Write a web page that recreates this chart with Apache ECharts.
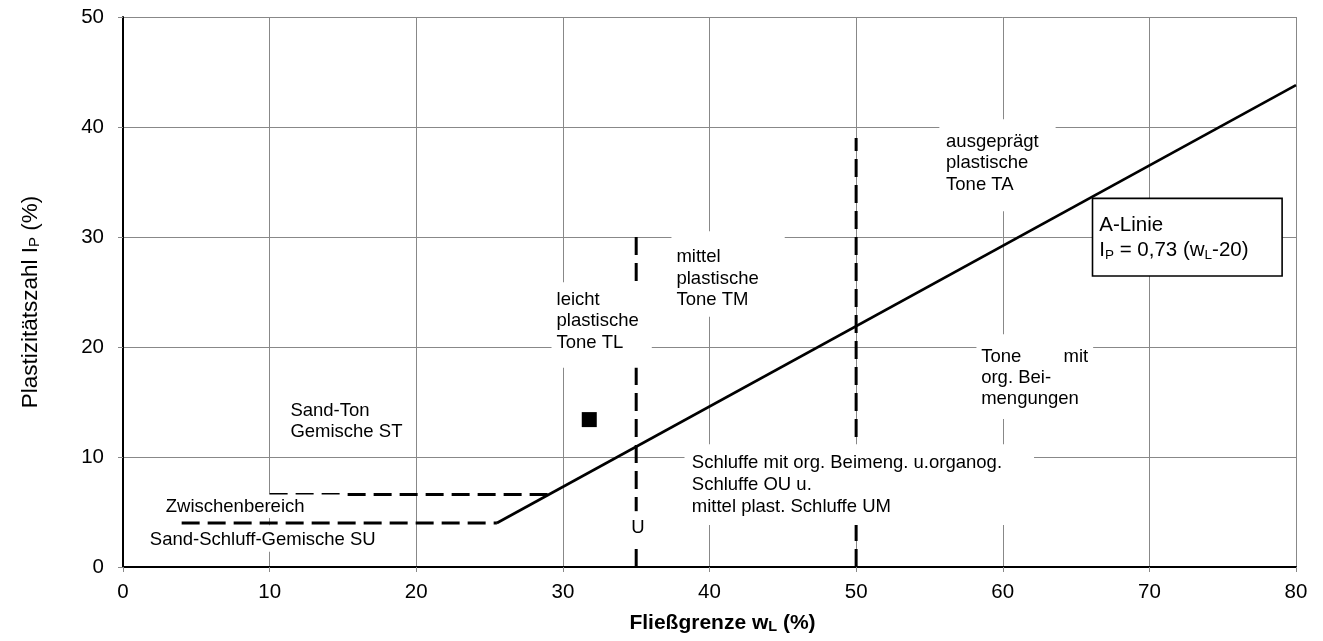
<!DOCTYPE html>
<html>
<head>
<meta charset="utf-8">
<script src="https://cdn.jsdelivr.net/npm/echarts@6/dist/echarts.min.js"></script>
<style>html,body{margin:0;padding:0;background:#fff}#c{width:1323px;height:641px}</style>
</head>
<body>
<div id="c"></div>
<script>
// ---- data ----
const xTickValues = [0, 10, 20, 30, 40, 50, 60, 70, 80];
const yTickValues = [0, 10, 20, 30, 40, 50];
const aLine = [[25.5, 4.0], [80, 43.8]];           // I_P = 0,73 (w_L - 20)
const upperDashed = [[10, 6.6], [29.04, 6.6]];
const lowerDashed = [[4, 4], [25.5, 4]];
const dashed35 = [[35, 0], [35, 30]];
const dashed50 = [[50, 0], [50, 39]];
const samplePoint = [[31.8, 13.4]];
// annotation anchors (top-left of text box, data coords) and text
const annotations = [
  [11.45, 15.15, 'Sand-Ton\nGemische ST'],
  [2.54, 6.55, 'Zwischenbereich'],
  [1.52, 3.75, 'Sand-Schluff-Gemische SU'],
  [29.26, 25.85, 'leicht\nplastische\nTone TL'],
  [37.44, 30.48, 'mittel\nplastische\nTone TM'],
  [55.71, 40.66, 'ausgeprägt\nplastische\nTone TA'],
  [58.24, 21.12, '{a|Tone}{r|mit}\norg. Bei-\nmengungen'],
  [38.33, 11.12, 'Schluffe mit org. Beimeng. u.organog.\nSchluffe OU u.\nmittel plast. Schluffe UM'],
  [34.38, 5.03, 'U'],
  [66.21, 33.39, 'A-Linie\nI{sub|P} = 0,73 (w{sub|L}-20)']
];

// ---- styles ----
const FF = "'Liberation Sans', Arial, sans-serif";
const FS = 18.5;
const annStyles = [
  {padding: [0, 0, 0, 0], backgroundColor: 'transparent'},
  {padding: [2, 37, 0, 6]},
  {padding: [4, 6, 1, 5]},
  {padding: [7, 13, 14, 5]},
  {padding: [15, 26, 6, 5]},
  {padding: [11.5, 17, 16, 6.7]},
  {padding: [11.6, 5, 9.3, 4.7], width: 107, lineHeight: 21.3},
  {padding: [8, 32, 6.7, 7.3], lineHeight: 22},
  {padding: [5.5, 3, 8, 4.7]},
  {padding: [13.5, 8, 12.5, 6], width: 174, fontSize: 20.5, lineHeight: 25,
   borderColor: '#000', borderWidth: 1.6}
];
const richBase = {
  a: {fontSize: FS, fontFamily: FF, color: '#000', lineHeight: 21.3, align: 'left'},
  r: {fontSize: FS, fontFamily: FF, color: '#000', lineHeight: 21.3, align: 'right'},
  sub: {fontSize: 13.5, fontFamily: FF, color: '#000', lineHeight: 14, verticalAlign: 'bottom'}
};

const labelData = annotations.map((a, i) => {
  const st = annStyles[i];
  return {
    value: [a[0], a[1]],
    label: Object.assign({
      show: true,
      position: [0, 0],
      align: 'left',
      verticalAlign: 'top',
      formatter: a[2],
      fontSize: FS,
      fontFamily: FF,
      color: '#000',
      opacity: 1,
      lineHeight: 21.5,
      backgroundColor: '#fff',
      rich: richBase
    }, st)
  };
});

const dashStyle = {color: '#000', width: 3, type: [18, 8], opacity: 1};
function seg(data, ls, z) {
  return {type: 'line', data: data, showSymbol: false, symbol: 'none', silent: true,
          lineStyle: ls, z: z || 3, animation: false};
}

const chart = echarts.init(document.getElementById('c'), null, {renderer: 'canvas'});
chart.setOption({
  animation: false,
  backgroundColor: '#fff',
  grid: {left: 123, right: 27, top: 17, bottom: 74, containLabel: false},
  xAxis: {
    type: 'value', min: xTickValues[0], max: xTickValues[xTickValues.length - 1], interval: 10,
    name: 'Fließgrenze w{sub|L} (%)',
    nameLocation: 'middle', nameGap: 46,
    nameTextStyle: {fontFamily: FF, fontSize: 21, fontWeight: 'bold', color: '#000', padding: [0, 0, 0, 26],
      rich: {sub: {fontSize: 14.5, fontWeight: 'bold', fontFamily: FF, color: '#000', lineHeight: 15, verticalAlign: 'bottom'}}},
    axisLine: {show: true, onZero: false, lineStyle: {color: '#000', width: 2}},
    axisTick: {show: true, length: 5, lineStyle: {color: '#888', width: 1}},
    axisLabel: {fontFamily: FF, fontSize: 20.5, color: '#000', margin: 15},
    splitLine: {show: true, lineStyle: {color: '#888', width: 1}}
  },
  yAxis: {
    type: 'value', min: yTickValues[0], max: yTickValues[yTickValues.length - 1], interval: 10,
    name: 'Plastizitätszahl I{sub|P} (%)',
    nameLocation: 'middle', nameGap: 81, nameRotate: 90,
    nameTextStyle: {fontFamily: FF, fontSize: 22.5, color: '#000', padding: [0, 20, 0, 0],
      rich: {sub: {fontSize: 15, fontFamily: FF, color: '#000', lineHeight: 16, verticalAlign: 'bottom'}}},
    axisLine: {show: true, onZero: false, lineStyle: {color: '#000', width: 2}},
    axisTick: {show: true, length: 5, lineStyle: {color: '#888', width: 1}},
    axisLabel: {fontFamily: FF, fontSize: 20.5, color: '#000', margin: 19},
    splitLine: {show: true, lineStyle: {color: '#888', width: 1}}
  },
  series: [
    seg(aLine, {color: '#000', width: 2.6, type: 'solid', opacity: 1}),
    seg(upperDashed, dashStyle),
    seg(lowerDashed, dashStyle),
    seg(dashed35, dashStyle),
    seg(dashed50, dashStyle),
    {type: 'scatter', data: samplePoint, symbol: 'rect', symbolSize: 15,
     itemStyle: {color: '#000', opacity: 1}, silent: true, z: 4},
    {type: 'scatter', data: labelData, symbolSize: 1, itemStyle: {color: 'rgba(0,0,0,0)', opacity: 1},
     silent: true, z: 10}
  ]
});
</script>
</body>
</html>
